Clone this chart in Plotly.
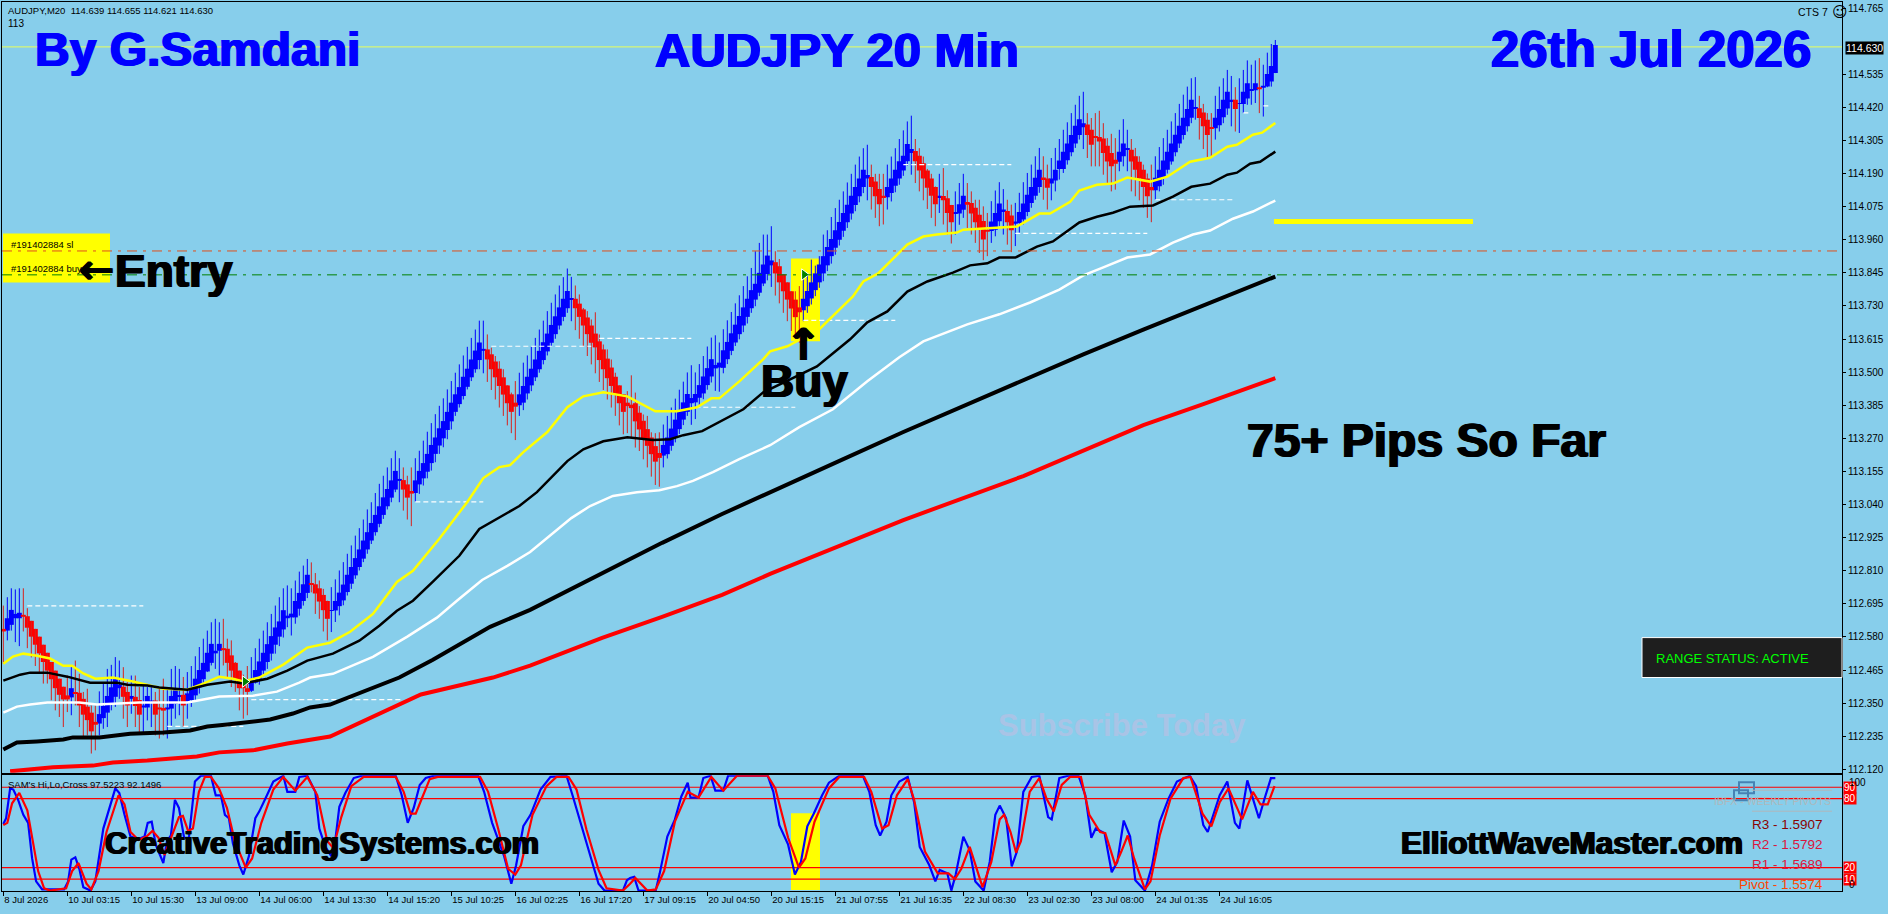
"""AUDJPY 20 min chart with moving averages and the Hi/Lo cross panel."""

import plotly.graph_objects as go

WIDTH = 1888
HEIGHT = 914

SKY = "#87CEEB"
FONT = "Liberation Sans"

# ---------------------------------------------------------------------------
# Data
# ---------------------------------------------------------------------------

bar_open = [
    112.608, 112.602, 112.622, 112.645, 112.645, 112.657, 112.652, 112.636, 112.608, 112.581,
    112.553, 112.525, 112.493, 112.463, 112.435, 112.407, 112.377, 112.370, 112.386, 112.386,
    112.365, 112.338, 112.317, 112.285, 112.279, 112.298, 112.317, 112.345, 112.372, 112.402,
    112.407, 112.389, 112.365, 112.372, 112.361, 112.335, 112.335, 112.352, 112.359, 112.335,
    112.333, 112.328, 112.331, 112.347, 112.372, 112.379, 112.356, 112.361, 112.377, 112.405,
    112.433, 112.460, 112.490, 112.523, 112.532, 112.541, 112.539, 112.516, 112.490, 112.463,
    112.421, 112.402, 112.393, 112.421, 112.435, 112.463, 112.493, 112.522, 112.553, 112.581,
    112.606, 112.645, 112.648, 112.648, 112.678, 112.705, 112.733, 112.764, 112.763, 112.749,
    112.726, 112.705, 112.671, 112.672, 112.687, 112.707, 112.736, 112.765, 112.794, 112.823,
    112.852, 112.884, 112.915, 112.944, 112.973, 113.004, 113.034, 113.064, 113.092, 113.122,
    113.125, 113.110, 113.087, 113.080, 113.110, 113.131, 113.154, 113.184, 113.216, 113.245,
    113.270, 113.299, 113.329, 113.362, 113.389, 113.417, 113.449, 113.482, 113.510, 113.542,
    113.574, 113.579, 113.562, 113.537, 113.512, 113.482, 113.454, 113.423, 113.394, 113.385,
    113.394, 113.426, 113.454, 113.482, 113.510, 113.542, 113.572, 113.602, 113.632, 113.662,
    113.692, 113.722, 113.752, 113.755, 113.738, 113.718, 113.690, 113.662, 113.634, 113.607,
    113.579, 113.547, 113.516, 113.484, 113.454, 113.423, 113.394, 113.387, 113.392, 113.359,
    113.331, 113.302, 113.273, 113.243, 113.219, 113.210, 113.215, 113.244, 113.273, 113.302,
    113.335, 113.362, 113.392, 113.395, 113.411, 113.426, 113.455, 113.485, 113.513, 113.516,
    113.515, 113.545, 113.574, 113.603, 113.632, 113.662, 113.692, 113.722, 113.752, 113.776,
    113.808, 113.841, 113.871, 113.882, 113.868, 113.840, 113.812, 113.781, 113.752, 113.725,
    113.715, 113.729, 113.756, 113.785, 113.812, 113.843, 113.871, 113.903, 113.932, 113.960,
    113.991, 114.021, 114.051, 114.081, 114.111, 114.143, 114.173, 114.178, 114.162, 114.136,
    114.113, 114.108, 114.122, 114.148, 114.173, 114.201, 114.233, 114.261, 114.268, 114.252,
    114.226, 114.201, 114.173, 114.143, 114.108, 114.112, 114.104, 114.081, 114.051, 114.051,
    114.064, 114.091, 114.088, 114.071, 114.047, 114.025, 113.995, 113.990, 113.995, 114.024,
    114.056, 114.060, 114.044, 114.016, 114.018, 114.030, 114.056, 114.088, 114.113, 114.143,
    114.176, 114.173, 114.155, 114.166, 114.206, 114.206, 114.236, 114.264, 114.294, 114.324,
    114.351, 114.360, 114.342, 114.317, 114.317, 114.312, 114.287, 114.261, 114.238, 114.231,
    114.250, 114.273, 114.273, 114.250, 114.231, 114.203, 114.173, 114.143, 114.132, 114.146,
    114.175, 114.203, 114.232, 114.264, 114.294, 114.324, 114.354, 114.384, 114.414, 114.417,
    114.402, 114.377, 114.350, 114.347, 114.358, 114.386, 114.416, 114.442, 114.446, 114.432,
    114.432, 114.451, 114.479, 114.479, 114.490, 114.488, 114.492, 114.510, 114.539,
]
bar_close = [
    112.599, 112.645, 112.674, 112.660, 112.664, 112.650, 112.612, 112.581, 112.553, 112.523,
    112.493, 112.463, 112.433, 112.402, 112.379, 112.363, 112.363, 112.402, 112.383, 112.342,
    112.310, 112.291, 112.252, 112.275, 112.312, 112.340, 112.375, 112.405, 112.433, 112.414,
    112.372, 112.342, 112.375, 112.340, 112.310, 112.342, 112.375, 112.359, 112.310, 112.328,
    112.324, 112.335, 112.375, 112.400, 112.377, 112.342, 112.384, 112.402, 112.435, 112.465,
    112.490, 112.525, 112.556, 112.532, 112.556, 112.534, 112.490, 112.463, 112.433, 112.402,
    112.402, 112.389, 112.433, 112.465, 112.495, 112.525, 112.555, 112.583, 112.613, 112.634,
    112.673, 112.654, 112.661, 112.705, 112.733, 112.763, 112.796, 112.761, 112.731, 112.703,
    112.673, 112.643, 112.673, 112.705, 112.734, 112.762, 112.796, 112.823, 112.854, 112.884,
    112.915, 112.944, 112.976, 113.004, 113.034, 113.065, 113.094, 113.124, 113.157, 113.129,
    113.092, 113.064, 113.078, 113.124, 113.157, 113.184, 113.216, 113.247, 113.273, 113.305,
    113.330, 113.362, 113.394, 113.423, 113.448, 113.484, 113.512, 113.544, 113.575, 113.603,
    113.581, 113.544, 113.510, 113.482, 113.452, 113.422, 113.392, 113.362, 113.380, 113.423,
    113.452, 113.484, 113.512, 113.544, 113.574, 113.604, 113.634, 113.664, 113.694, 113.725,
    113.755, 113.782, 113.757, 113.722, 113.692, 113.662, 113.632, 113.602, 113.586, 113.542,
    113.510, 113.479, 113.452, 113.422, 113.392, 113.362, 113.382, 113.375, 113.329, 113.301,
    113.271, 113.244, 113.215, 113.189, 113.202, 113.247, 113.273, 113.304, 113.335, 113.365,
    113.395, 113.424, 113.410, 113.424, 113.455, 113.485, 113.514, 113.545, 113.525, 113.533,
    113.576, 113.605, 113.635, 113.665, 113.695, 113.725, 113.755, 113.785, 113.807, 113.845,
    113.874, 113.905, 113.888, 113.843, 113.812, 113.781, 113.752, 113.721, 113.691, 113.708,
    113.755, 113.782, 113.812, 113.843, 113.874, 113.903, 113.935, 113.963, 113.993, 114.022,
    114.053, 114.082, 114.113, 114.143, 114.173, 114.203, 114.185, 114.143, 114.111, 114.083,
    114.107, 114.143, 114.173, 114.203, 114.233, 114.252, 114.293, 114.275, 114.233, 114.201,
    114.173, 114.141, 114.113, 114.083, 114.113, 114.097, 114.053, 114.021, 114.055, 114.083,
    114.113, 114.082, 114.051, 114.021, 113.995, 113.961, 113.988, 114.023, 114.053, 114.086,
    114.065, 114.021, 113.993, 114.023, 114.056, 114.086, 114.116, 114.143, 114.175, 114.203,
    114.171, 114.141, 114.173, 114.203, 114.235, 114.266, 114.294, 114.324, 114.356, 114.379,
    114.365, 114.324, 114.290, 114.314, 114.301, 114.261, 114.232, 114.215, 114.224, 114.266,
    114.294, 114.277, 114.232, 114.203, 114.173, 114.143, 114.111, 114.132, 114.175, 114.203,
    114.235, 114.266, 114.294, 114.325, 114.356, 114.384, 114.414, 114.446, 114.421, 114.383,
    114.354, 114.324, 114.347, 114.384, 114.414, 114.446, 114.474, 114.446, 114.414, 114.435,
    114.474, 114.504, 114.481, 114.504, 114.483, 114.495, 114.536, 114.564, 114.637,
]
bar_high = [
    112.689, 112.718, 112.749, 112.745, 112.749, 112.749, 112.680, 112.636, 112.608, 112.581,
    112.553, 112.525, 112.493, 112.463, 112.435, 112.407, 112.446, 112.475, 112.498, 112.452,
    112.389, 112.400, 112.342, 112.342, 112.391, 112.423, 112.469, 112.483, 112.510, 112.498,
    112.475, 112.423, 112.446, 112.446, 112.406, 112.412, 112.406, 112.412, 112.389, 112.406,
    112.435, 112.406, 112.469, 112.479, 112.469, 112.441, 112.458, 112.479, 112.513, 112.545,
    112.574, 112.602, 112.631, 112.643, 112.631, 112.643, 112.574, 112.568, 112.493, 112.463,
    112.449, 112.479, 112.510, 112.541, 112.574, 112.602, 112.631, 112.660, 112.689, 112.718,
    112.749, 112.759, 112.749, 112.776, 112.807, 112.828, 112.851, 112.839, 112.802, 112.776,
    112.747, 112.706, 112.753, 112.780, 112.811, 112.840, 112.869, 112.898, 112.932, 112.958,
    112.988, 113.023, 113.048, 113.080, 113.112, 113.140, 113.169, 113.201, 113.227, 113.201,
    113.169, 113.140, 113.169, 113.201, 113.227, 113.262, 113.293, 113.323, 113.354, 113.383,
    113.409, 113.440, 113.469, 113.498, 113.527, 113.558, 113.588, 113.619, 113.648, 113.679,
    113.679, 113.631, 113.585, 113.556, 113.538, 113.510, 113.454, 113.429, 113.469, 113.498,
    113.533, 113.558, 113.588, 113.619, 113.648, 113.679, 113.712, 113.741, 113.770, 113.801,
    113.830, 113.860, 113.831, 113.801, 113.770, 113.723, 113.712, 113.683, 113.708, 113.631,
    113.596, 113.579, 113.544, 113.498, 113.454, 113.423, 113.434, 113.489, 113.429, 113.382,
    113.353, 113.348, 113.291, 113.288, 113.291, 113.318, 113.348, 113.377, 113.408, 113.439,
    113.467, 113.499, 113.524, 113.499, 113.528, 113.556, 113.589, 113.620, 113.628, 113.603,
    113.649, 113.680, 113.709, 113.739, 113.767, 113.799, 113.833, 113.862, 113.920, 113.949,
    113.978, 113.978, 114.007, 113.920, 113.893, 113.840, 113.812, 113.781, 113.781, 113.799,
    113.822, 113.839, 113.891, 113.870, 113.903, 113.978, 113.993, 114.039, 114.070, 114.099,
    114.128, 114.159, 114.189, 114.221, 114.249, 114.278, 114.290, 114.221, 114.189, 114.189,
    114.189, 114.221, 114.249, 114.278, 114.310, 114.340, 114.371, 114.391, 114.310, 114.278,
    114.249, 114.206, 114.189, 114.145, 114.189, 114.209, 114.132, 114.081, 114.128, 114.157,
    114.189, 114.157, 114.128, 114.099, 114.099, 114.076, 114.053, 114.094, 114.131, 114.160,
    114.136, 114.099, 114.082, 114.088, 114.123, 114.160, 114.192, 114.221, 114.250, 114.279,
    114.250, 114.221, 114.244, 114.279, 114.310, 114.342, 114.368, 114.400, 114.429, 114.460,
    114.474, 114.400, 114.383, 114.400, 114.408, 114.365, 114.313, 114.328, 114.313, 114.342,
    114.379, 114.342, 114.310, 114.279, 114.250, 114.221, 114.190, 114.221, 114.250, 114.282,
    114.313, 114.342, 114.371, 114.400, 114.432, 114.464, 114.492, 114.521, 114.525, 114.460,
    114.432, 114.400, 114.400, 114.460, 114.492, 114.521, 114.550, 114.529, 114.490, 114.521,
    114.550, 114.583, 114.568, 114.583, 114.591, 114.568, 114.610, 114.640, 114.654,
]
bar_low = [
    112.487, 112.568, 112.602, 112.562, 112.548, 112.599, 112.541, 112.509, 112.479, 112.458,
    112.418, 112.418, 112.360, 112.325, 112.302, 112.267, 112.319, 112.308, 112.342, 112.267,
    112.233, 112.238, 112.175, 112.186, 112.238, 112.261, 112.267, 112.325, 112.337, 112.365,
    112.296, 112.267, 112.313, 112.267, 112.250, 112.250, 112.290, 112.267, 112.238, 112.227,
    112.238, 112.227, 112.267, 112.296, 112.308, 112.267, 112.296, 112.337, 112.354, 112.383,
    112.412, 112.458, 112.481, 112.469, 112.446, 112.481, 112.435, 112.406, 112.389, 112.325,
    112.296, 112.308, 112.389, 112.418, 112.414, 112.444, 112.469, 112.498, 112.522, 112.548,
    112.578, 112.614, 112.585, 112.626, 112.654, 112.689, 112.715, 112.735, 112.660, 112.643,
    112.599, 112.568, 112.597, 112.632, 112.655, 112.690, 112.724, 112.747, 112.782, 112.811,
    112.840, 112.869, 112.903, 112.932, 112.961, 112.990, 113.023, 113.048, 113.083, 113.048,
    113.019, 112.988, 112.965, 113.050, 113.077, 113.106, 113.131, 113.158, 113.187, 113.216,
    113.239, 113.267, 113.301, 113.348, 113.377, 113.405, 113.440, 113.469, 113.498, 113.510,
    113.496, 113.466, 113.438, 113.405, 113.377, 113.348, 113.315, 113.288, 113.264, 113.348,
    113.368, 113.405, 113.434, 113.469, 113.498, 113.527, 113.558, 113.588, 113.616, 113.648,
    113.677, 113.706, 113.677, 113.646, 113.616, 113.588, 113.556, 113.527, 113.496, 113.466,
    113.438, 113.405, 113.377, 113.348, 113.315, 113.284, 113.288, 113.273, 113.238, 113.226,
    113.197, 113.169, 113.137, 113.108, 113.102, 113.169, 113.200, 113.227, 113.256, 113.285,
    113.316, 113.348, 113.317, 113.337, 113.376, 113.406, 113.439, 113.464, 113.435, 113.432,
    113.496, 113.528, 113.559, 113.591, 113.614, 113.639, 113.669, 113.706, 113.729, 113.764,
    113.799, 113.819, 113.796, 113.766, 113.739, 113.706, 113.677, 113.643, 113.631, 113.602,
    113.677, 113.706, 113.735, 113.764, 113.793, 113.816, 113.851, 113.877, 113.908, 113.940,
    113.970, 114.001, 114.030, 114.059, 114.090, 114.122, 114.097, 114.065, 114.036, 114.007,
    114.013, 114.065, 114.093, 114.125, 114.151, 114.182, 114.217, 114.186, 114.157, 114.128,
    114.097, 114.067, 114.036, 114.007, 114.053, 114.013, 113.978, 113.947, 113.978, 114.012,
    114.036, 114.001, 113.978, 113.949, 113.914, 113.889, 113.903, 113.949, 113.972, 114.007,
    113.978, 113.943, 113.917, 113.938, 113.984, 114.013, 114.042, 114.071, 114.099, 114.123,
    114.099, 114.065, 114.097, 114.128, 114.169, 114.192, 114.221, 114.250, 114.279, 114.308,
    114.275, 114.244, 114.215, 114.215, 114.215, 114.186, 114.155, 114.128, 114.134, 114.198,
    114.215, 114.198, 114.128, 114.111, 114.097, 114.071, 114.036, 114.021, 114.099, 114.128,
    114.151, 114.190, 114.221, 114.250, 114.279, 114.308, 114.336, 114.365, 114.377, 114.308,
    114.275, 114.244, 114.250, 114.308, 114.336, 114.365, 114.394, 114.354, 114.336, 114.331,
    114.400, 114.429, 114.429, 114.435, 114.400, 114.388, 114.490, 114.492, 114.539,
]

yellow_x = [0, 2.4, 5, 8.4, 11.7, 15, 17.2, 20, 23, 27.4, 32.4, 36.7, 40, 46, 50, 54, 57.4, 60, 64, 70,
            76, 81.7, 86.7, 92.4, 98.4, 102.4, 109, 116, 120, 124, 126.7, 130, 136, 141, 145, 150,
            156, 163, 168.4, 173.4, 177, 179, 184, 190, 191.7, 196, 204, 212.4, 215, 218.7, 226,
            230, 233.4, 238.4, 240, 253.4, 259, 261.7, 266.7, 269, 273.4, 277.4, 281, 286.7, 291,
            296.7, 301.7, 306, 308.4, 312.4, 314.7, 318]
yellow_y = [112.487, 112.512, 112.522, 112.515, 112.505, 112.480, 112.480, 112.453, 112.435, 112.439,
            112.425, 112.411, 112.400, 112.397, 112.418, 112.442, 112.435, 112.425, 112.439, 112.484,
            112.543, 112.560, 112.598, 112.660, 112.771, 112.810, 112.921, 113.049, 113.132, 113.170,
            113.177, 113.222, 113.292, 113.378, 113.416, 113.430, 113.416, 113.364, 113.364, 113.378,
            113.409, 113.409, 113.468, 113.545, 113.572, 113.590, 113.649, 113.763, 113.815, 113.843,
            113.943, 113.971, 113.978, 113.985, 113.995, 114.006, 114.051, 114.051, 114.092, 114.131,
            114.151, 114.155, 114.176, 114.162, 114.179, 114.231, 114.245, 114.283, 114.290, 114.325,
            114.332, 114.366]

black_x = [0, 4.2, 6.7, 11, 16, 21.7, 28.4, 31, 36, 39, 46, 51, 56.7, 60, 66, 71, 76, 82.4, 89, 94,
           98.4, 102.4, 107.4, 114, 119, 123.7, 129, 133.4, 141, 145, 150, 156, 162.4, 166.7, 170,
           174.7, 179, 185, 190, 203.4, 211.7, 216, 221, 226, 231, 237.4, 241.7, 246, 249, 253,
           258.4, 262.4, 269, 273.4, 277.4, 281.7, 287.4, 292.4, 297, 301.7, 306, 308.4, 311.7,
           314.2, 318]
black_y = [112.428, 112.449, 112.456, 112.456, 112.442, 112.421, 112.421, 112.414, 112.411, 112.404,
           112.397, 112.414, 112.425, 112.418, 112.435, 112.463, 112.498, 112.522, 112.567, 112.619,
           112.671, 112.706, 112.772, 112.862, 112.955, 112.993, 113.035, 113.083, 113.191, 113.232,
           113.260, 113.274, 113.264, 113.267, 113.281, 113.295, 113.326, 113.371, 113.430, 113.520,
           113.614, 113.673, 113.711, 113.780, 113.815, 113.846, 113.871, 113.878, 113.898, 113.898,
           113.936, 113.954, 114.020, 114.040, 114.054, 114.075, 114.079, 114.110, 114.144, 114.155,
           114.186, 114.193, 114.224, 114.231, 114.266]

white_x = [0, 3.4, 6.7, 11, 19, 23.4, 27.4, 34, 46, 51, 54, 62.4, 68.4, 74, 76.7, 82.4, 92.4, 101,
           108.4, 113.4, 119.7, 126, 131.7, 142, 146.7, 152.4, 158.4, 164, 168.4, 172.4, 177.4, 184,
           191.7, 199, 207.4, 216, 224, 230, 236, 241, 249, 256.7, 264, 270, 275, 281, 286.7, 292.4,
           297.4, 301.7, 307.4, 312.4, 318]
white_y = [112.317, 112.338, 112.345, 112.352, 112.352, 112.345, 112.348, 112.352, 112.352, 112.366,
           112.373, 112.376, 112.390, 112.421, 112.439, 112.452, 112.511, 112.581, 112.647, 112.706,
           112.778, 112.827, 112.875, 112.993, 113.035, 113.070, 113.083, 113.090, 113.104, 113.122,
           113.153, 113.198, 113.246, 113.309, 113.371, 113.468, 113.552, 113.607, 113.638, 113.666,
           113.701, 113.742, 113.787, 113.836, 113.864, 113.898, 113.909, 113.950, 113.978, 113.992,
           114.033, 114.058, 114.096]

thick_x = [0, 3.4, 8.4, 15, 17.4, 24, 31.7, 40, 46.7, 51, 56, 61, 66.7, 72.4, 76.7, 81.7, 99, 107.4,
           115, 121.7, 131.7, 149.7, 164.7, 179.7, 194.9, 210, 225, 240, 255, 270, 285, 300, 310, 318]
thick_y = [112.189, 112.213, 112.217, 112.224, 112.231, 112.231, 112.244, 112.248, 112.255, 112.269,
           112.276, 112.283, 112.293, 112.314, 112.335, 112.345, 112.439, 112.501, 112.560, 112.615,
           112.674, 112.803, 112.907, 113.007, 113.101, 113.198, 113.292, 113.382, 113.475, 113.562,
           113.648, 113.732, 113.787, 113.832]

red_ma_x = [1.7, 7.4, 12.4, 22.4, 27.4, 36, 41, 48.4, 54, 62.4, 71, 76.7, 81.7, 104.4, 122.4, 131.7,
            149.7, 164.7, 179.7, 191.7, 210, 225, 255, 270, 285, 300, 318]
red_ma_y = [112.113, 112.120, 112.127, 112.133, 112.144, 112.151, 112.158, 112.165, 112.179, 112.186,
            112.210, 112.224, 112.234, 112.380, 112.439, 112.480, 112.577, 112.650, 112.726, 112.799,
            112.903, 112.986, 113.139, 113.229, 113.316, 113.389, 113.479]

# swing levels, dashed white: start bar, end bar, price
level_start = [6, 41, 62, 103, 122, 149, 173, 200, 225, 253, 288, 310, 315]
level_end = [35, 60, 100, 120, 147, 172, 198, 223, 252, 286, 308, 312, 317]
level_price = [112.688, 112.269, 112.362, 113.049, 113.590, 113.617, 113.378, 113.680, 114.221,
               113.982, 114.099, 114.401, 114.425]

entry_x = [60.4, 200.2]
entry_y = [112.425, 113.839]

BID_PRICE = 114.630
SL_PRICE = 113.921
BUY_PRICE = 113.838

stoch_blue_x = [0, 0.7, 1.7, 2.5, 3.7, 5, 6.2, 7.2, 8.2, 9.7, 15.2, 16.2, 17, 18, 19, 20, 21.8, 23, 25,
                26.5, 28, 29, 30.3, 31.8, 33.8, 35.3, 36.1, 37.1, 38.1, 40, 40.9, 41.9, 42.9, 43.9,
                45.2, 46.4, 47.9, 49.4, 51.9, 53.1, 54.4, 55.4, 56.4, 57.4, 59, 60, 61.4, 63, 64,
                65.5, 67.5, 70, 71, 73, 74, 76, 78, 79, 80.5, 82, 83, 84, 85.5, 87.6, 89.6, 98.1,
                99.6, 101.1, 102.6, 104.1, 105.6, 107.6, 118.7, 120.2, 122.2, 125.2, 127, 128.2, 130,
                131.8, 134.3, 136.8, 140.8, 142.3, 144.3, 146.8, 148.8, 150.3, 154.9, 155.9, 156.7,
                157.7, 158.8, 163.1, 164.1, 166, 167.9, 169.5, 171.1, 171.8, 173.8, 175, 176.8, 178,
                180, 181.2, 191.1, 192.5, 194, 196.2, 197.9, 199.4, 201, 202.6, 204.7, 206.4, 209,
                214.9, 216.5, 218.1, 219.2, 220.8, 222, 224, 226.1, 227.7, 229.1, 231.5, 233, 234.1,
                236, 237, 238.1, 240, 241.6, 243, 245.1, 246.6, 248, 249.1, 250.7, 252.1, 253.4, 255,
                257.1, 259, 261.2, 262.1, 264, 266.2, 268.8, 270.5, 272, 273.1, 275.3, 277.1, 278.5,
                280.1, 281.7, 283, 285.4, 287.2, 289.1, 291.3, 293.4, 296.6, 298.2, 300, 301.1, 304.1,
                306, 307.9, 309, 311, 312.4, 313.9, 315.3, 316.9, 318]
stoch_blue_y = [58, 63, 89, 88, 79, 66, 59, 28, 8, 1, 1, 8, 27, 29, 19, 3, 0, 8, 54,
                72, 89, 85, 66, 47, 45, 47, 59, 60, 40, 24, 43, 48, 79, 72,
                46, 46, 95, 100, 100, 83, 83, 66, 63, 41, 22, 14, 30, 63, 69,
                80, 95, 100, 86, 86, 99, 100, 86, 54, 38, 30, 44, 73, 85, 98, 100, 100,
                83, 59, 72, 92, 98, 100, 100, 86, 59, 30, 6, 22, 56,
                66, 88, 99, 100, 83, 59, 28, 6, 0, 0, 9, 11,
                12, 0, 0, 15, 47, 62, 82, 94, 81, 81, 98, 100, 87,
                87, 100, 100, 86, 57, 40, 14, 25, 56, 67, 83, 94, 100,
                100, 86, 57, 48, 60, 83, 95, 99, 77, 38, 22, 8, 18,
                15, 0, 14, 47, 35, 8, 0, 25, 66, 74, 63, 21, 34, 86,
                99, 100, 64, 62, 98, 100, 100, 83, 46, 54, 50, 16, 25,
                61, 47, 9, 0, 22, 60, 80, 95, 100, 91, 57, 51, 83,
                95, 59, 54, 96, 80, 63, 80, 98, 98]

stoch_red_x = [0, 1, 2.2, 4, 6, 7.2, 8.7, 10.2, 11.7, 15.7, 17.2, 18.8, 20.8, 22, 23.8, 25.8, 28.8, 30.3,
               31.8, 33.8, 35.8, 37.3, 38.8, 40.3, 42.4, 43.9, 44.9, 46.2, 47.4, 48.9, 50.4, 51.9,
               53.9, 55.9, 57.9, 60.6, 62.2, 64.5, 67.5, 70, 73, 76, 78.5, 81, 82.5, 84.5, 87, 90.1,
               98.1, 100.1, 101.8, 103.1, 104.6, 106.6, 108.6, 119.2, 121.2, 123.7, 126.2, 128, 129.4,
               132.3, 135.8, 138.3, 141.3, 143.3, 145.8, 148.8, 150.8, 154.9, 156.7, 158, 161, 163.1,
               165.2, 167.9, 171.1, 173.8, 177, 180, 183.4, 191.1, 193, 196.2, 198.9, 200.5, 202.8,
               206.4, 209, 215.2, 217, 219.7, 221.3, 223.4, 226.1, 227.7, 230.4, 233.6, 236.3, 237.9,
               239.5, 241.6, 244.8, 247, 249.1, 250.2, 251.8, 253.2, 254.4, 256.6, 259, 260.8, 262.6,
               264.6, 266.7, 269.4, 271.5, 274.2, 275.5, 278, 279.5, 281.1, 282.7, 285.4, 286.8,
               289.1, 291.8, 295, 296.8, 299.8, 302, 304.1, 306.3, 309.7, 312.4, 314.3, 316.1, 317.8]
stoch_red_y = [57, 59, 76, 85, 70, 46, 17, 2, 0, 2, 17, 24, 6, 1, 17, 51, 83, 75,
               51, 44, 47, 52, 46, 31, 50, 64, 65, 52, 54, 86, 99, 99,
               89, 72, 43, 20, 28, 59, 88, 99, 87, 99, 83, 43, 37, 64, 91, 99,
               99, 86, 67, 67, 80, 97, 99, 99, 86, 54, 19, 14, 22,
               66, 91, 99, 99, 88, 53, 18, 2, 0, 6, 11, 0, 1,
               17, 60, 86, 81, 99, 87, 100, 100, 89, 46, 20, 28, 60,
               89, 99, 99, 86, 54, 57, 83, 97, 79, 34, 15, 15, 10,
               19, 38, 3, 25, 62, 66, 51, 33, 43, 86, 98, 80, 69,
               92, 99, 99, 66, 51, 50, 22, 34, 48, 28, 1, 8,
               48, 80, 98, 99, 67, 56, 77, 89, 62, 86, 75, 75, 91]

stoch_levels = [90, 80, 20, 10]

price_ticks = [114.765, 114.535, 114.420, 114.305, 114.190, 114.075, 113.960, 113.845, 113.730,
               113.615, 113.500, 113.385, 113.270, 113.155, 113.040, 112.925, 112.810, 112.695,
               112.580, 112.465, 112.350, 112.235, 112.120]

time_tick_bars = [0, 16, 32, 48, 64, 80, 96, 112, 128, 144, 160, 176, 192, 208, 224, 240, 256, 272, 288, 304]
time_tick_labels = ["8 Jul 2026", "10 Jul 03:15", "10 Jul 15:30", "13 Jul 09:00", "14 Jul 06:00",
                    "14 Jul 13:30", "14 Jul 15:20", "15 Jul 10:25", "16 Jul 02:25", "16 Jul 17:20",
                    "17 Jul 09:15", "20 Jul 04:50", "20 Jul 15:15", "21 Jul 07:55", "21 Jul 16:35",
                    "22 Jul 08:30", "23 Jul 02:30", "23 Jul 08:00", "24 Jul 01:35", "24 Jul 16:05"]


# ---------------------------------------------------------------------------
# Helpers
# ---------------------------------------------------------------------------

def add_text(fig, px, py, text, size, color="black", anchor="left", bold=False, heavy=False,
             family=FONT, bg=None):
    """Place text at a pixel position of the page."""
    shadow = f"1px 0 0 {color}, -1px 0 0 {color}" if heavy else "none"
    fig.add_annotation(
        xref="paper", yref="paper", x=px / WIDTH, y=1 - py / HEIGHT,
        text=f"<b>{text}</b>" if bold else text,
        showarrow=False, xanchor=anchor, yanchor="middle", bgcolor=bg,
        font=dict(family=family, size=size, color=color, shadow=shadow),
        borderpad=0,
    )


def add_box(fig, x0, y0, x1, y1, fill=None, line=None, line_width=0, layer="above"):
    """Rectangle given in page pixels."""
    fig.add_shape(
        type="rect", xref="paper", yref="paper",
        x0=x0 / WIDTH, x1=x1 / WIDTH, y0=1 - y0 / HEIGHT, y1=1 - y1 / HEIGHT,
        fillcolor=fill, line=dict(color=line, width=line_width), layer=layer,
    )


def add_ma(fig, xs, ys, color, width):
    fig.add_trace(go.Scatter(x=xs, y=ys, mode="lines", line=dict(color=color, width=width),
                             hoverinfo="skip", showlegend=False))


def add_bars(fig, rising):
    """Wicks first, then solid bodies over them."""
    idx = [i for i in range(len(bar_open)) if (bar_close[i] >= bar_open[i]) == rising]
    wick_x, wick_y = [], []
    for i in idx:
        wick_x += [i, i, None]
        wick_y += [bar_low[i], bar_high[i], None]
    fig.add_trace(go.Scatter(x=wick_x, y=wick_y, mode="lines",
                             line=dict(color="#0000ff" if rising else "#d8201c", width=1),
                             hoverinfo="skip", showlegend=False))
    fig.add_trace(go.Bar(x=idx,
                         base=[min(bar_open[i], bar_close[i]) for i in idx],
                         y=[abs(bar_close[i] - bar_open[i]) for i in idx],
                         width=1.25, marker=dict(color="#0000ff" if rising else "#ff0000", line_width=0),
                         hoverinfo="skip", showlegend=False))


# ---------------------------------------------------------------------------
# Figure
# ---------------------------------------------------------------------------

fig = go.Figure()

level_x, level_y = [], []
for start, end, price in zip(level_start, level_end, level_price):
    level_x += [start, end, None]
    level_y += [price, price, None]

add_bars(fig, True)
add_bars(fig, False)
fig.add_trace(go.Scatter(x=level_x, y=level_y, mode="lines",
                         line=dict(color="white", width=1.2, dash="5px,3px"),
                         hoverinfo="skip", showlegend=False))

add_ma(fig, yellow_x, yellow_y, "#ffff00", 2.5)
add_ma(fig, black_x, black_y, "#000000", 2.5)
add_ma(fig, white_x, white_y, "#ffffff", 2.5)
add_ma(fig, thick_x, thick_y, "#000000", 4)
add_ma(fig, red_ma_x, red_ma_y, "#ff0000", 4)

fig.add_trace(go.Scatter(x=entry_x, y=entry_y, mode="markers",
                         marker=dict(symbol="triangle-right", size=10, color="#008000",
                                     line=dict(color="white", width=1)),
                         hoverinfo="skip", showlegend=False))

# lower panel
for level in stoch_levels:
    fig.add_trace(go.Scatter(x=[-0.33, 459.67], y=[level, level], mode="lines", xaxis="x2", yaxis="y2",
                             line=dict(color="#ff0000", width=1.2), hoverinfo="skip", showlegend=False))
fig.add_trace(go.Scatter(x=stoch_blue_x, y=stoch_blue_y, mode="lines", xaxis="x2", yaxis="y2",
                         line=dict(color="#0000ff", width=2.2), hoverinfo="skip", showlegend=False))
fig.add_trace(go.Scatter(x=stoch_red_x, y=stoch_red_y, mode="lines", xaxis="x2", yaxis="y2",
                         line=dict(color="#ff0000", width=2.2), hoverinfo="skip", showlegend=False))

fig.update_layout(
    width=WIDTH, height=HEIGHT, autosize=False,
    margin=dict(l=0, r=0, t=0, b=0, pad=0),
    paper_bgcolor=SKY, plot_bgcolor=SKY,
    showlegend=False, barmode="overlay",
    font=dict(family=FONT, size=10, color="black"),
    xaxis=dict(domain=[2 / WIDTH, 1842 / WIDTH], range=[-0.33, 459.67], anchor="y", showgrid=False,
               zeroline=False, showline=True, mirror=True, linecolor="black", linewidth=1,
               showticklabels=False, ticks=""),
    yaxis=dict(domain=[1 - 774.5 / HEIGHT, 1 - 2 / HEIGHT], range=[112.108, 114.786], side="right",
               anchor="x", showgrid=False, zeroline=False, showline=True, mirror=True,
               linecolor="black", linewidth=1, tickvals=price_ticks,
               ticktext=[f"{t:.3f}" for t in price_ticks], ticks="outside", ticklen=3,
               tickcolor="black", tickfont=dict(family=FONT, size=10, color="black")),
    xaxis2=dict(domain=[2 / WIDTH, 1842 / WIDTH], range=[-0.33, 459.67], anchor="y2", showgrid=False,
                zeroline=False, showline=True, mirror=True, linecolor="black", linewidth=1,
                tickvals=time_tick_bars, ticktext=time_tick_labels, ticks="outside", ticklen=4,
                tickcolor="black", ticklabelposition="outside right",
                tickfont=dict(family=FONT, size=9.5, color="black")),
    yaxis2=dict(domain=[1 - 893 / HEIGHT, 1 - 777 / HEIGHT], range=[-0.4, 100.4], side="right",
                anchor="x2", showgrid=False, zeroline=False, showline=True, mirror=True,
                linecolor="black", linewidth=1, showticklabels=False, ticks=""),
)

# yellow blocks sit behind the bars
add_box(fig, 3, 234, 110, 283, fill="#ffff00", layer="below")
add_box(fig, 791, 259, 820, 342, fill="#ffff00", layer="below")
add_box(fig, 791, 815, 820, 892, fill="#ffff00", layer="below")

# order and bid lines
fig.add_hline(y=BID_PRICE, line=dict(color="#eaff5a", width=1), layer="below")
fig.add_hline(y=SL_PRICE, line=dict(color="#e0501c", width=1, dash="10px,6px,3px,6px"), layer="above")
fig.add_hline(y=BUY_PRICE, line=dict(color="#008000", width=1, dash="10px,6px,3px,6px"), layer="above")

# target line on the right of the last bar
fig.add_shape(type="line", xref="paper", yref="paper", x0=1274 / WIDTH, x1=1473 / WIDTH,
              y0=1 - 222 / HEIGHT, y1=1 - 222 / HEIGHT, line=dict(color="#ffff00", width=5))

# range status panel
add_box(fig, 1642, 639, 1842, 679, fill="#1e1e1e", line="white", line_width=1)
add_text(fig, 1655, 660, "RANGE STATUS: ACTIVE", 13, color="#00ff00")

# pivots block
add_box(fig, 1739, 784, 1754, 795, line="#4682b4", line_width=2)
add_box(fig, 1734, 792, 1748, 802, line="#4682b4", line_width=2)
for y_px in (792, 813):
    fig.add_shape(type="line", xref="paper", yref="paper", x0=1752 / WIDTH, x1=1832 / WIDTH,
                  y0=1 - y_px / HEIGHT, y1=1 - y_px / HEIGHT, line=dict(color="#b0b8bc", width=1))
add_text(fig, 1832, 803, "IBFX - WEEKLY PIVOTS", 10.5, color="#aeb8bc", anchor="right")
add_text(fig, 1824, 826, "R3 - 1.5907", 13.5, color="#8b0000", anchor="right")
add_text(fig, 1824, 846, "R2 - 1.5792", 13.5, color="#dc143c", anchor="right")
add_text(fig, 1824, 866, "R1 - 1.5689", 13.5, color="#dc143c", anchor="right")
add_text(fig, 1824, 886, "Pivot - 1.5574", 13.5, color="#ff4500", anchor="right")

# small labels
add_text(fig, 7, 11, "AUDJPY,M20&nbsp;&nbsp;114.639 114.655 114.621 114.630", 9.5)
add_text(fig, 7, 24, "113", 10)
add_text(fig, 1797, 12, "CTS 7", 10.5)
add_text(fig, 1831, 12, "☺", 15, family="DejaVu Sans")
add_text(fig, 10, 245, "#191402884 sl", 9.5)
add_text(fig, 10, 269, "#191402884 buy", 9.5)
add_text(fig, 7, 786, "SAM's Hi,Lo,Cross 97.5223 92.1496", 9.5)

# big headlines
add_text(fig, 34, 50, "By G.Samdani", 48, color="#0000ff", bold=True, heavy=True)
add_text(fig, 654, 50, "AUDJPY 20 Min", 49, color="#0000ff", bold=True, heavy=True)
add_text(fig, 1812, 50, "26th Jul 2026", 51, color="#0000ff", anchor="right", bold=True, heavy=True)
add_text(fig, 78, 270, "←", 42, bold=True, heavy=True, family="DejaVu Sans")
add_text(fig, 114, 272, "Entry", 46, bold=True, heavy=True)
add_text(fig, 803, 345, "↑", 44, anchor="center", bold=True, heavy=True, family="DejaVu Sans")
add_text(fig, 804, 382, "Buy", 46, anchor="center", bold=True, heavy=True)
add_text(fig, 1246, 441, "75+ Pips So Far", 48, bold=True, heavy=True)
add_text(fig, 997, 727, "Subscribe Today", 31, color="#a9c4e6", bold=True)
add_text(fig, 104, 845, "CreativeTradingSystems.com", 31, bold=True, heavy=True)
add_text(fig, 1400, 845, "ElliottWaveMaster.com", 31.5, bold=True, heavy=True)

# value labels on the right
add_text(fig, 1845, 48, f"{BID_PRICE:.3f}", 10.5, color="white", bg="black")
for level, y_px in zip(stoch_levels, (789, 800, 869, 881)):
    add_text(fig, 1850, y_px, str(level), 10, color="white", anchor="center", bg="#ff0000")
add_text(fig, 1848, 784, "100", 10)
add_text(fig, 1848, 886, "0", 10)

fig.write_html("out.html", config={"displayModeBar": False},
               post_script="document.body.style.margin='0';")
